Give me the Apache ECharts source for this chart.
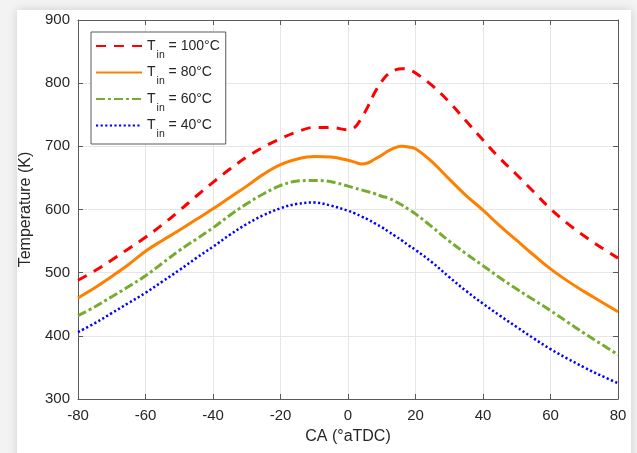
<!DOCTYPE html>
<html>
<head>
<meta charset="utf-8">
<script src="https://cdn.jsdelivr.net/npm/echarts@6/dist/echarts.min.js"></script>
<style>
  html, body { margin: 0; padding: 0; width: 637px; height: 453px; overflow: hidden; background: #f3f3f3; }
  #panel { position: absolute; left: 17px; top: 10px; width: 614px; height: 460px; background: #fff;
           box-shadow: 0 0 9px rgba(0,0,0,0.16); }
  #chart { position: absolute; left: 0; top: 0; width: 637px; height: 453px; }
</style>
</head>
<body>
<div id="panel"></div>
<div id="chart"></div>
<script>
// Crank angle (°aTDC)
const crankAngle = [-80,-75,-70,-65,-60,-55,-50,-45,-40,-35,-30,-25,-20,-15,-10,-5,0,2,4,6,8,10,12,14,16,18,20,25,30,35,40,45,50,55,60,65,70,75,80];

// In-cylinder temperature (K) for each intake temperature
const temp100 = [488,503,520,538,556,576,598,621,643,664,683,699,712,723,730,730,726,730,745,764,786,803,815,821,823,821,816,796,770,740,710,681,655,628,601,578,558,540,523];
const temp80  = [460,476,494,513,534,551,567,584,601,619,637,656,671,680,684,683,678,675,672,674,680,686,693,698,700,699,696,675,648,622,599,574,551,528,506,487,470,454,438];
const temp60  = [432,446,462,478,495,515,535,553,571,591,609,625,638,645,646,644,637,634,631,628,625,621,618,613,607,600,593,572,550,530,511,492,474,457,440,422,404,387,370];
const temp40  = [406,420,436,452,468,486,504,523,541,560,577,591,602,609,611,606,598,594,589,584,578,572,565,558,551,543,536,516,493,471,451,432,414,396,379,364,350,337,325];

const inletTemps = ['100', '80', '60', '40'];
const xTicks = [-80, 80, 20];
const yTicks = [300, 900, 100];

const pairs = vals => crankAngle.map((x, i) => [x, vals[i]]);
const font = 'Liberation Sans, Arial, Helvetica, sans-serif';
const txt = '#262626';
const axisCol = '#5a5a5a';

function makeSeries(idx, vals, color, type, width) {
  return {
    name: 'T' + inletTemps[idx],
    type: 'line',
    data: pairs(vals),
    smooth: 0.4,
    symbol: 'none',
    lineStyle: { color: color, width: width, type: type, cap: 'butt' },
    itemStyle: { color: color },
    z: 10 - idx
  };
}

const chart = echarts.init(document.getElementById('chart'), null, { renderer: 'canvas' });

// frame axes on the top and right edges (ticks only)
const boxAxis = {
  axisLine: { show: true, onZero: false, lineStyle: { color: axisCol, width: 1 } },
  axisTick: { show: true, inside: true, length: 5, lineStyle: { color: axisCol } },
  axisLabel: { show: false },
  splitLine: { show: false }
};

chart.setOption({
  animation: false,
  backgroundColor: 'transparent',
  grid: { left: 78, right: 19, top: 20, bottom: 54, containLabel: false },
  legend: {
    orient: 'vertical',
    left: 91, top: 32,
    padding: [7, 6, 4, 4],
    itemWidth: 46, itemHeight: 14, itemGap: 5,
    backgroundColor: '#fff',
    borderColor: '#5a5a5a', borderWidth: 1,
    itemStyle: { opacity: 0 },
    data: inletTemps.map(t => 'T' + t),
    formatter: name => '{m|T}{s|in}{m| = ' + name.slice(1) + '°C}',
    textStyle: {
      rich: {
        m: { fontFamily: font, fontSize: 14, color: txt, lineHeight: 21, verticalAlign: 'middle' },
        s: { fontFamily: font, fontSize: 10.5, color: txt, lineHeight: 21, verticalAlign: 'bottom', padding: [0, 0, -4, 1] }
      }
    }
  },
  xAxis: [
    {
      type: 'value', min: xTicks[0], max: xTicks[1], interval: xTicks[2],
      name: 'CA (°aTDC)', nameLocation: 'middle', nameGap: 30,
      nameTextStyle: { fontFamily: font, fontSize: 16, color: txt },
      axisLine: { show: true, onZero: false, lineStyle: { color: axisCol, width: 1 } },
      axisTick: { show: true, inside: true, length: 5, lineStyle: { color: axisCol } },
      axisLabel: { fontFamily: font, fontSize: 15, color: txt, margin: 9 },
      splitLine: { show: true, lineStyle: { color: '#e6e6e6', width: 1 } }
    },
    Object.assign({}, boxAxis, { type: 'value', position: 'top', min: xTicks[0], max: xTicks[1], interval: xTicks[2] })
  ],
  yAxis: [
    {
      type: 'value', min: yTicks[0], max: yTicks[1], interval: yTicks[2],
      name: 'Temperature (K)', nameLocation: 'middle', nameGap: 38, nameRotate: 90,
      nameTextStyle: { fontFamily: font, fontSize: 16, color: txt },
      axisLine: { show: true, onZero: false, lineStyle: { color: axisCol, width: 1 } },
      axisTick: { show: true, inside: true, length: 5, lineStyle: { color: axisCol } },
      axisLabel: { fontFamily: font, fontSize: 15, color: txt, margin: 8 },
      splitLine: { show: true, lineStyle: { color: '#e6e6e6', width: 1 } }
    },
    Object.assign({}, boxAxis, { type: 'value', position: 'right', min: yTicks[0], max: yTicks[1], interval: yTicks[2] })
  ],
  series: [
    makeSeries(0, temp100, '#ff0000', [10, 8], 3),
    makeSeries(1, temp80, '#ff8000', 'solid', 3),
    makeSeries(2, temp60, '#77ac30', [9, 3, 3, 3], 3),
    makeSeries(3, temp40, '#0000ff', [2.2, 2.4], 2.5)
  ]
});
</script>
</body>
</html>
